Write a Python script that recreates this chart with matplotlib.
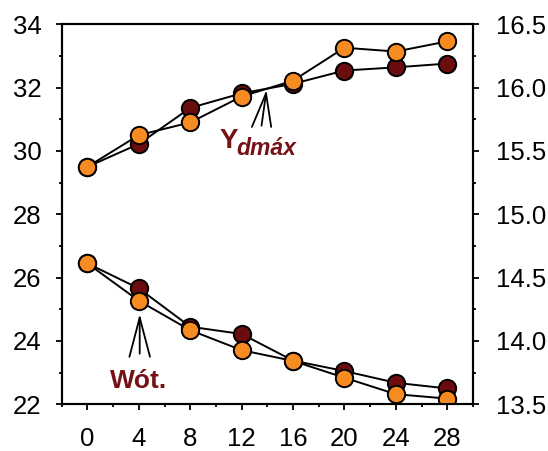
import matplotlib
matplotlib.use("Agg")
import matplotlib.pyplot as plt
from matplotlib.ticker import MultipleLocator, FormatStrFormatter

plt.rcParams['font.family'] = ['Liberation Sans', 'DejaVu Sans']

days = [0, 4, 8, 12, 16, 20, 24, 28]
# Ydmáx (right axis)
ydmax_a = [15.375, 15.555, 15.84, 15.955, 16.03, 16.135, 16.16, 16.19]
ydmax_b = [15.375, 15.625, 15.725, 15.93, 16.055, 16.315, 16.285, 16.365]
# Wót. (left axis)
wot_a = [26.45, 25.66, 24.45, 24.22, 23.38, 23.05, 22.68, 22.5]
wot_b = [26.45, 25.27, 24.34, 23.71, 23.37, 22.84, 22.32, 22.18]

x_ticks = [0, 4, 8, 12, 16, 20, 24, 28]

DARK = '#6B0D0F'
ORANGE = '#F68B22'
TXT = '#761215'

fig = plt.figure(figsize=(5.48, 4.51), dpi=100)
ax = fig.add_axes([0.1126, 1 - 404.3 / 451, 0.863 - 0.1126, (404.3 - 24.3) / 451])
ax2 = ax.twinx()

mk = dict(marker='o', markersize=12.5, markeredgecolor='black', markeredgewidth=1.4,
          color='black', linewidth=1.4)

ax.plot(days, wot_a, markerfacecolor=DARK, zorder=3, **mk)
ax.plot(days, wot_b, markerfacecolor=ORANGE, zorder=4, **mk)
ax2.plot(days, ydmax_a, markerfacecolor=DARK, zorder=3, **mk)
ax2.plot(days, ydmax_b, markerfacecolor=ORANGE, zorder=4, **mk)

ax.set_xlim(-2, 30)
ax.set_ylim(22, 34)
ax2.set_ylim(13.5, 16.5)

ax.set_xticks(x_ticks)
ax.xaxis.set_minor_locator(MultipleLocator(2))
ax.yaxis.set_major_locator(MultipleLocator(2))
ax.yaxis.set_minor_locator(MultipleLocator(1))
ax2.yaxis.set_major_locator(MultipleLocator(0.5))
ax2.yaxis.set_minor_locator(MultipleLocator(0.25))
ax2.yaxis.set_major_formatter(FormatStrFormatter('%.1f'))

for a in (ax, ax2):
    for s in a.spines.values():
        s.set_linewidth(1.5)
    a.tick_params(which='major', direction='out', length=4.5, width=1.3, labelsize=18.5)
    a.tick_params(which='minor', direction='out', length=2.5, width=1.3)
ax.tick_params(axis='y', right=False, pad=10)
ax.tick_params(axis='x', top=False, which='both', pad=12)
ax2.tick_params(axis='y', pad=12)

# Labels with pointer lines
ax.text(4.0, 22.53, 'Wót.', color=TXT, fontsize=19, fontweight='bold',
        ha='center', va='baseline')
for dx in (-0.8, 0.0, 0.8):
    ax.annotate('', xy=(4.07, 24.74), xytext=(4.07 + dx, 23.5 + (0.1 if dx == 0 else 0)),
                arrowprops=dict(arrowstyle='-', color='black', lw=1.3, shrinkA=0, shrinkB=0))

ax2.text(10.3, 15.52, 'Y', color=TXT, fontsize=20, fontweight='bold', ha='left', va='baseline')
ax2.text(11.6, 15.465, 'dmáx', color=TXT, fontsize=16.5, fontweight='bold', fontstyle='italic',
         ha='left', va='baseline')
for dx in (-1.1, -0.35, 0.4):
    ax2.annotate('', xy=(13.9, 15.955), xytext=(13.9 + dx, 15.69 + (0.01 if dx == -0.35 else 0)),
                 arrowprops=dict(arrowstyle='-', color='black', lw=1.3, shrinkA=0, shrinkB=0))

fig.savefig('out.png', dpi=100)
